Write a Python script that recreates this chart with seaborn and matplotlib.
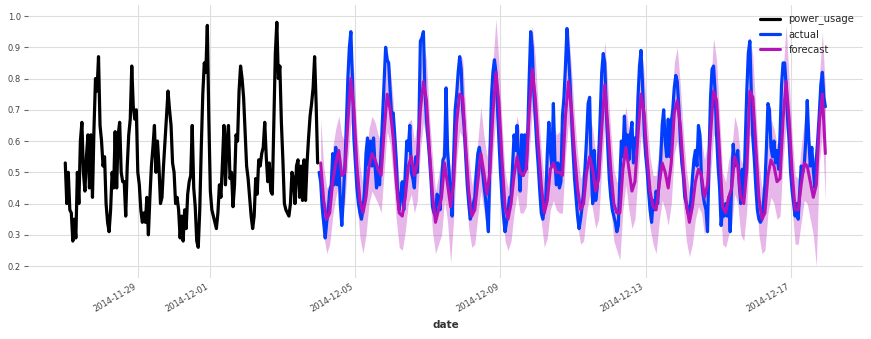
import numpy as np
import pandas as pd
import matplotlib
matplotlib.use("Agg")
import matplotlib.pyplot as plt
import matplotlib.dates as mdates
from matplotlib.ticker import FormatStrFormatter
import seaborn as sns

# consumo horario (treino): 2014-11-27 00:00 .. 2014-12-03 23:00
power_usage = [
    0.53, 0.40, 0.50, 0.38, 0.37, 0.28, 0.35, 0.29, 0.50, 0.40, 0.60, 0.66, 0.50, 0.44, 0.55, 0.62, 0.45, 0.62, 0.42, 0.64, 0.80, 0.76, 0.87, 0.65,
    0.60, 0.52, 0.55, 0.40, 0.34, 0.31, 0.38, 0.50, 0.45, 0.63, 0.45, 0.62, 0.66, 0.50, 0.47, 0.47, 0.36, 0.52, 0.62, 0.67, 0.84, 0.71, 0.67, 0.70,
    0.50, 0.46, 0.38, 0.34, 0.37, 0.34, 0.42, 0.30, 0.42, 0.52, 0.58, 0.65, 0.50, 0.60, 0.52, 0.40, 0.42, 0.52, 0.60, 0.68, 0.76, 0.70, 0.65, 0.53,
    0.50, 0.40, 0.42, 0.38, 0.29, 0.36, 0.28, 0.38, 0.32, 0.43, 0.47, 0.49, 0.65, 0.45, 0.39, 0.28, 0.26, 0.38, 0.58, 0.75, 0.85, 0.82, 0.97, 0.67,
    0.44, 0.38, 0.36, 0.34, 0.32, 0.37, 0.46, 0.42, 0.53, 0.65, 0.46, 0.60, 0.65, 0.48, 0.50, 0.39, 0.46, 0.62, 0.60, 0.76, 0.84, 0.80, 0.74, 0.63,
    0.52, 0.48, 0.42, 0.36, 0.32, 0.36, 0.48, 0.43, 0.54, 0.52, 0.56, 0.58, 0.66, 0.55, 0.47, 0.53, 0.44, 0.43, 0.66, 0.88, 0.98, 0.80, 0.84, 0.66,
    0.54, 0.40, 0.38, 0.37, 0.36, 0.40, 0.50, 0.48, 0.40, 0.52, 0.54, 0.42, 0.52, 0.41, 0.54, 0.41, 0.53, 0.61, 0.68, 0.72, 0.77, 0.87, 0.72, 0.53,
]

# valores reais (teste): 2014-12-04 00:00 .. 2014-12-17 23:00
actual = [
    0.50, 0.47, 0.39, 0.34, 0.29, 0.34, 0.38, 0.44, 0.46, 0.56, 0.46, 0.58, 0.46, 0.54, 0.40, 0.33, 0.42, 0.52, 0.65, 0.80, 0.90, 0.95, 0.80, 0.61,
    0.53, 0.45, 0.40, 0.37, 0.35, 0.38, 0.44, 0.56, 0.61, 0.52, 0.60, 0.52, 0.61, 0.52, 0.45, 0.50, 0.46, 0.57, 0.68, 0.79, 0.90, 0.86, 0.85, 0.76,
    0.68, 0.69, 0.62, 0.54, 0.43, 0.38, 0.43, 0.47, 0.38, 0.50, 0.60, 0.57, 0.65, 0.50, 0.48, 0.45, 0.55, 0.50, 0.65, 0.92, 0.93, 0.95, 0.76, 0.67,
    0.61, 0.55, 0.48, 0.39, 0.37, 0.36, 0.43, 0.42, 0.38, 0.47, 0.54, 0.55, 0.77, 0.57, 0.50, 0.42, 0.36, 0.55, 0.70, 0.75, 0.82, 0.87, 0.83, 0.70,
    0.64, 0.55, 0.46, 0.40, 0.35, 0.37, 0.40, 0.42, 0.50, 0.56, 0.58, 0.55, 0.51, 0.46, 0.42, 0.37, 0.31, 0.55, 0.74, 0.82, 0.86, 0.82, 0.71, 0.60,
    0.50, 0.42, 0.36, 0.31, 0.34, 0.38, 0.42, 0.42, 0.52, 0.62, 0.57, 0.65, 0.52, 0.44, 0.62, 0.49, 0.62, 0.51, 0.62, 0.80, 0.95, 0.90, 0.76, 0.68,
    0.59, 0.52, 0.44, 0.37, 0.35, 0.38, 0.42, 0.56, 0.66, 0.57, 0.52, 0.72, 0.54, 0.46, 0.53, 0.45, 0.47, 0.68, 0.74, 0.84, 0.96, 0.88, 0.79, 0.68,
    0.57, 0.48, 0.42, 0.36, 0.32, 0.35, 0.39, 0.44, 0.52, 0.61, 0.72, 0.74, 0.52, 0.40, 0.57, 0.41, 0.45, 0.55, 0.68, 0.82, 0.88, 0.85, 0.70, 0.58,
    0.48, 0.42, 0.38, 0.36, 0.34, 0.31, 0.33, 0.48, 0.60, 0.55, 0.68, 0.57, 0.62, 0.54, 0.62, 0.66, 0.53, 0.61, 0.59, 0.74, 0.84, 0.89, 0.78, 0.65,
    0.56, 0.51, 0.44, 0.38, 0.34, 0.41, 0.38, 0.44, 0.40, 0.48, 0.54, 0.65, 0.70, 0.60, 0.55, 0.67, 0.55, 0.66, 0.70, 0.77, 0.81, 0.79, 0.71, 0.61,
    0.53, 0.49, 0.42, 0.40, 0.37, 0.38, 0.41, 0.48, 0.54, 0.57, 0.52, 0.65, 0.62, 0.48, 0.43, 0.40, 0.38, 0.31, 0.55, 0.74, 0.83, 0.84, 0.76, 0.62,
    0.52, 0.45, 0.33, 0.38, 0.36, 0.40, 0.36, 0.42, 0.31, 0.46, 0.59, 0.52, 0.54, 0.57, 0.46, 0.40, 0.51, 0.42, 0.60, 0.76, 0.88, 0.92, 0.75, 0.61,
    0.54, 0.45, 0.38, 0.35, 0.34, 0.35, 0.40, 0.46, 0.58, 0.72, 0.70, 0.58, 0.55, 0.60, 0.53, 0.57, 0.51, 0.62, 0.78, 0.85, 0.85, 0.78, 0.67, 0.60,
    0.50, 0.44, 0.40, 0.36, 0.40, 0.35, 0.44, 0.52, 0.50, 0.52, 0.60, 0.73, 0.61, 0.52, 0.58, 0.51, 0.45, 0.54, 0.61, 0.69, 0.78, 0.82, 0.74, 0.71,
]

# previsao (mediana) e quantis 5% / 95%, a cada 2 horas a partir de 2014-12-04 01:00
forecast = [
    0.53, 0.41, 0.35, 0.37, 0.47, 0.53, 0.57, 0.49, 0.50, 0.66, 0.80, 0.70,
    0.52, 0.41, 0.37, 0.42, 0.52, 0.56, 0.54, 0.51, 0.49, 0.63, 0.75, 0.70,
    0.61, 0.47, 0.37, 0.36, 0.42, 0.52, 0.55, 0.49, 0.53, 0.70, 0.79, 0.73,
    0.57, 0.43, 0.34, 0.38, 0.42, 0.53, 0.46, 0.39, 0.47, 0.66, 0.75, 0.74,
    0.58, 0.44, 0.36, 0.38, 0.47, 0.56, 0.50, 0.43, 0.50, 0.69, 0.82, 0.72,
    0.54, 0.39, 0.35, 0.40, 0.49, 0.55, 0.50, 0.49, 0.51, 0.69, 0.83, 0.74,
    0.59, 0.46, 0.37, 0.41, 0.51, 0.53, 0.50, 0.50, 0.49, 0.68, 0.79, 0.70,
    0.56, 0.45, 0.38, 0.40, 0.50, 0.55, 0.51, 0.44, 0.48, 0.64, 0.78, 0.65,
    0.51, 0.40, 0.37, 0.37, 0.51, 0.58, 0.51, 0.44, 0.47, 0.62, 0.75, 0.69,
    0.55, 0.44, 0.39, 0.38, 0.46, 0.53, 0.50, 0.45, 0.53, 0.69, 0.73, 0.65,
    0.51, 0.40, 0.34, 0.39, 0.47, 0.51, 0.49, 0.42, 0.46, 0.62, 0.76, 0.73,
    0.56, 0.39, 0.37, 0.42, 0.45, 0.55, 0.52, 0.42, 0.40, 0.51, 0.76, 0.74,
    0.58, 0.42, 0.35, 0.37, 0.49, 0.54, 0.52, 0.47, 0.48, 0.67, 0.79, 0.67,
    0.50, 0.38, 0.38, 0.46, 0.53, 0.52, 0.47, 0.42, 0.46, 0.66, 0.75, 0.56,
]
forecast_low = [
    0.37, 0.30, 0.24, 0.27, 0.36, 0.42, 0.46, 0.38, 0.40, 0.54, 0.66, 0.58,
    0.41, 0.29, 0.24, 0.30, 0.40, 0.44, 0.42, 0.40, 0.37, 0.50, 0.63, 0.59,
    0.49, 0.35, 0.26, 0.25, 0.31, 0.40, 0.43, 0.37, 0.41, 0.57, 0.66, 0.60,
    0.45, 0.31, 0.24, 0.27, 0.30, 0.41, 0.34, 0.21, 0.35, 0.54, 0.63, 0.61,
    0.46, 0.32, 0.26, 0.27, 0.36, 0.44, 0.38, 0.31, 0.38, 0.56, 0.68, 0.60,
    0.42, 0.28, 0.25, 0.28, 0.37, 0.43, 0.37, 0.37, 0.39, 0.56, 0.70, 0.61,
    0.47, 0.34, 0.26, 0.29, 0.38, 0.41, 0.38, 0.37, 0.37, 0.55, 0.66, 0.57,
    0.44, 0.33, 0.27, 0.28, 0.37, 0.43, 0.38, 0.32, 0.35, 0.51, 0.65, 0.52,
    0.39, 0.28, 0.25, 0.22, 0.38, 0.46, 0.38, 0.32, 0.35, 0.49, 0.62, 0.56,
    0.43, 0.32, 0.27, 0.24, 0.34, 0.41, 0.38, 0.33, 0.40, 0.56, 0.60, 0.53,
    0.39, 0.28, 0.23, 0.27, 0.35, 0.39, 0.37, 0.30, 0.34, 0.49, 0.62, 0.60,
    0.44, 0.27, 0.26, 0.30, 0.33, 0.43, 0.40, 0.30, 0.28, 0.38, 0.62, 0.61,
    0.46, 0.30, 0.24, 0.25, 0.37, 0.42, 0.40, 0.35, 0.36, 0.54, 0.65, 0.54,
    0.38, 0.27, 0.27, 0.34, 0.41, 0.40, 0.35, 0.30, 0.20, 0.53, 0.62, 0.41,
]
forecast_high = [
    0.67, 0.52, 0.45, 0.46, 0.58, 0.64, 0.68, 0.62, 0.60, 0.78, 0.90, 0.82,
    0.63, 0.52, 0.46, 0.53, 0.64, 0.68, 0.66, 0.62, 0.60, 0.75, 0.89, 0.83,
    0.73, 0.58, 0.47, 0.46, 0.53, 0.66, 0.67, 0.60, 0.66, 0.84, 0.92, 0.86,
    0.68, 0.55, 0.44, 0.49, 0.55, 0.66, 0.58, 0.50, 0.60, 0.80, 0.88, 0.86,
    0.70, 0.55, 0.46, 0.50, 0.60, 0.71, 0.62, 0.55, 0.63, 0.85, 0.99, 0.85,
    0.66, 0.50, 0.45, 0.51, 0.62, 0.68, 0.62, 0.61, 0.64, 0.84, 0.97, 0.87,
    0.71, 0.57, 0.47, 0.53, 0.64, 0.66, 0.62, 0.63, 0.61, 0.83, 0.96, 0.83,
    0.68, 0.56, 0.48, 0.51, 0.62, 0.68, 0.64, 0.56, 0.61, 0.78, 0.92, 0.78,
    0.63, 0.51, 0.47, 0.47, 0.63, 0.71, 0.63, 0.56, 0.60, 0.76, 0.90, 0.82,
    0.67, 0.55, 0.49, 0.49, 0.58, 0.66, 0.62, 0.57, 0.66, 0.85, 0.90, 0.78,
    0.63, 0.51, 0.44, 0.50, 0.59, 0.64, 0.61, 0.54, 0.59, 0.77, 0.93, 0.86,
    0.68, 0.50, 0.47, 0.54, 0.57, 0.68, 0.64, 0.54, 0.52, 0.66, 0.94, 0.87,
    0.70, 0.53, 0.45, 0.48, 0.61, 0.67, 0.64, 0.59, 0.61, 0.82, 0.97, 0.80,
    0.62, 0.49, 0.48, 0.58, 0.66, 0.64, 0.59, 0.54, 0.58, 0.80, 0.95, 0.76,
]

train_idx = pd.date_range("2014-11-27 00:00", periods=len(power_usage), freq="h")
test_idx = pd.date_range("2014-12-04 00:00", periods=len(actual), freq="h")
fc_idx = pd.date_range("2014-12-04 01:00", periods=len(forecast), freq="2h")

sns.set_theme(style="whitegrid")
plt.rcParams["font.family"] = ["DejaVu Sans"]

fig, ax = plt.subplots(figsize=(8.71, 3.39), dpi=100)
fig.subplots_adjust(left=0.032, right=0.991, top=0.985, bottom=0.18)

sns.lineplot(x=train_idx, y=power_usage, ax=ax, color="black", lw=2.3, label="power_usage")
sns.lineplot(x=test_idx, y=actual, ax=ax, color="#003dfd", lw=2.3, label="actual")
sns.lineplot(x=fc_idx, y=forecast, ax=ax, color="#b512b8", lw=2.2, label="forecast")
ax.fill_between(fc_idx, forecast_low, forecast_high, color="#b512b8", alpha=0.3, lw=0)

for s in ax.spines.values():
    s.set_visible(False)
ax.grid(True, color="#dedede", lw=0.8)
ax.set_facecolor("white")

ax.set_ylim(0.162, 1.035)
ax.set_xlim(pd.Timestamp("2014-11-25 23:15"), pd.Timestamp("2014-12-19 00:00"))
ax.set_yticks([0.2, 0.3, 0.4, 0.5, 0.6, 0.7, 0.8, 0.9, 1.0])
ax.yaxis.set_major_formatter(FormatStrFormatter("%.1f"))
ax.xaxis.set_major_locator(mdates.DayLocator(bymonthday=[1, 5, 9, 13, 17, 21, 25, 29]))
ax.xaxis.set_major_formatter(mdates.DateFormatter("%Y-%m-%d"))
ax.tick_params(axis="x", length=0, labelsize=6, labelcolor="#444444", pad=3)
ax.tick_params(axis="y", left=True, length=3, width=0.8, color="#666666", labelsize=6, labelcolor="#444444", pad=2)
plt.setp(ax.get_xticklabels(), rotation=30, ha="right")

ax.set_xlabel("date", fontsize=7.5, fontweight="bold", color="#333333")
ax.set_ylabel("")
ax.legend(loc="upper right", frameon=False, fontsize=7.2)

fig.savefig("out.png", dpi=100)
